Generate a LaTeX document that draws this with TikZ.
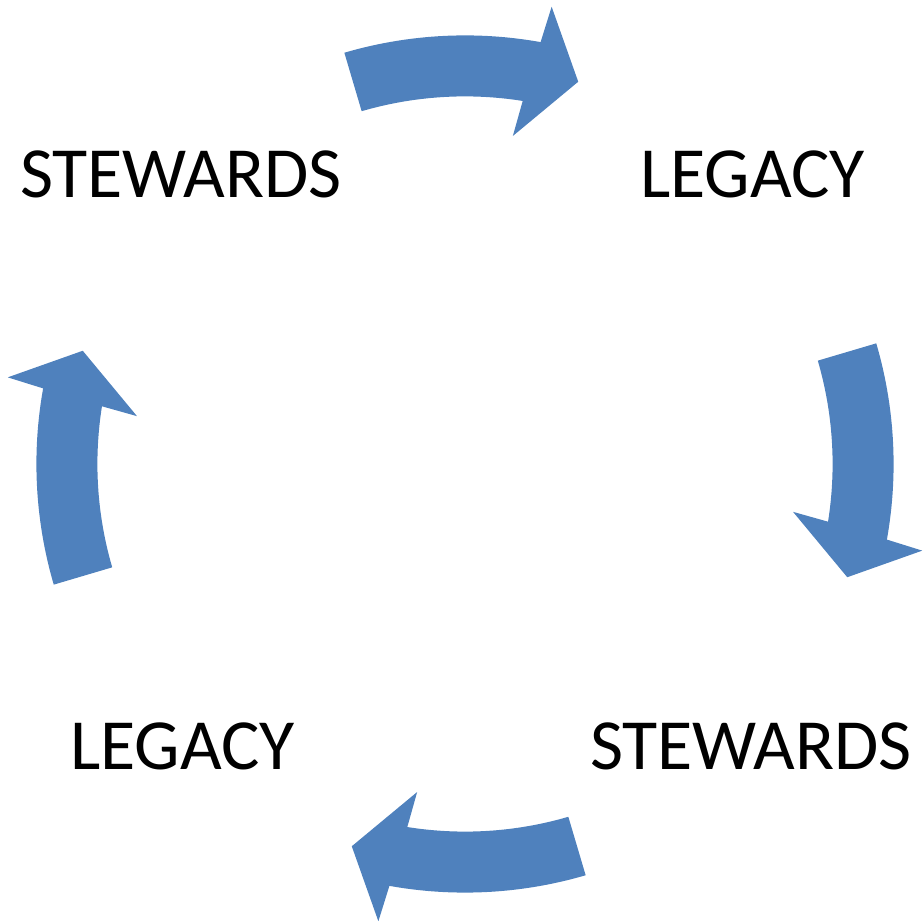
\documentclass[tikz,border=0pt]{standalone}
\usepackage{fontspec}
\setmainfont{Carlito}
\definecolor{arrowblue}{HTML}{4F81BD}
\tikzset{
  blockarrow/.style={fill=arrowblue, draw=none},
  cyclelabel/.style={anchor=base, inner sep=0pt, font=\fontsize{72}{86}\selectfont, text=black}
}
\begin{document}
\begin{tikzpicture}[x=1pt,y=1pt]
\useasboundingbox (0,0) rectangle (923,923);
\coordinate (c) at (465,459);
\foreach \k in {0,1,2,3}{
  \begin{scope}[shift={(c)}, rotate=-90*\k]
    \fill[blockarrow] (106.35:428.6) arc[start angle=106.35, end angle=79.84, radius=428.6]
      -- (79.27:465.4) -- (73.5:398.7) -- (81.7:331.5) -- (80.97:367.6)
      arc[start angle=80.97, end angle=106.3, radius=368] -- cycle;
  \end{scope}
}
\node[cyclelabel] (s1) at (181,725) {STEWARDS};
\node[cyclelabel] (l1) at (752.5,725) {LEGACY};
\node[cyclelabel] (s2) at (751,153) {STEWARDS};
\node[cyclelabel] (l2) at (182.5,153) {LEGACY};
\end{tikzpicture}
\end{document}
